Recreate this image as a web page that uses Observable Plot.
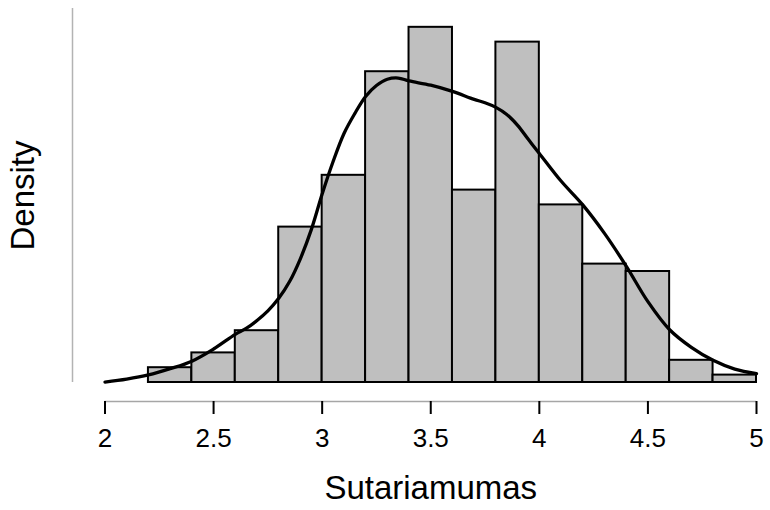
<!DOCTYPE html>
<html>
<head>
<meta charset="utf-8">
<script src="https://cdn.jsdelivr.net/npm/d3@7"></script>
<script src="https://cdn.jsdelivr.net/npm/@observablehq/plot@0.6"></script>
<style>
  html, body { margin: 0; padding: 0; background: #fff; }
  #chart { width: 770px; height: 510px; }
</style>
</head>
<body>
<div id="chart"></div>
<script>
// Histogram bins (width 0.2) and the count in each bin
const binStarts = [2.2, 2.4, 2.6, 2.8, 3.0, 3.2, 3.4, 3.6, 3.8, 4.0, 4.2, 4.4, 4.6, 4.8];
const binCounts = [2, 4, 7, 21, 28, 42, 48, 26, 46, 24, 16, 15, 3, 1];
const binWidth = 0.2;

// Kernel density estimate, sampled along x
const kdeX = [2.0, 2.1, 2.2, 2.3, 2.4, 2.5, 2.6, 2.65, 2.7, 2.75, 2.8, 2.85, 2.9, 2.95, 3.0, 3.05,
              3.1, 3.15, 3.2, 3.25, 3.3, 3.35, 3.4, 3.5, 3.6, 3.7, 3.75, 3.8, 3.85, 3.9, 3.95,
              4.0, 4.1, 4.2, 4.3, 4.4, 4.5, 4.6, 4.7, 4.8, 4.9, 5.0];
const kdeY = [0.001, 0.008, 0.018, 0.033, 0.051, 0.080, 0.115, 0.129, 0.148, 0.171, 0.201, 0.241,
              0.296, 0.365, 0.450, 0.527, 0.594, 0.642, 0.683, 0.709, 0.724, 0.727, 0.720, 0.710,
              0.695, 0.676, 0.668, 0.657, 0.640, 0.614, 0.580, 0.547, 0.481, 0.424, 0.356, 0.278,
              0.193, 0.126, 0.084, 0.053, 0.032, 0.021];

// Axis ticks and labels
const xTicks = [2, 2.5, 3, 3.5, 4, 4.5, 5];
const xLabel = "Sutariamumas";
const yLabel = "Density";

const total = d3.sum(binCounts);
const bins = binStarts.map((x0, i) => ({
  x1: x0,
  x2: x0 + binWidth,
  density: binCounts[i] / (total * binWidth)
}));
const curve = kdeX.map((x, i) => ({x, y: kdeY[i]}));
const yTop = d3.max(bins, d => d.density) * 1.053;

const font = "'Liberation Sans', Arial, Helvetica, sans-serif";

const chart = Plot.plot({
  width: 770,
  height: 510,
  marginLeft: 104.5,
  marginRight: 14,
  marginTop: 8,
  marginBottom: 128,
  style: {fontFamily: font, background: "#fff", overflow: "visible"},
  x: {domain: [2, 5]},
  y: {domain: [0, yTop], axis: null},
  marks: [
    // left axis: plain grey line, no ticks
    Plot.ruleX([2], {y1: 0, y2: yTop, dx: -32.5, stroke: "#b3b3b3", strokeWidth: 1.5}),
    Plot.rectY(bins, {
      x1: "x1", x2: "x2", y: "density",
      fill: "#bfbfbf", stroke: "#000", strokeWidth: 2
    }),
    Plot.line(curve, {x: "x", y: "y", stroke: "#000", strokeWidth: 3.3, curve: "catmull-rom"}),
    // bottom axis, offset below the bars
    Plot.ruleY([0], {x1: 2, x2: 5, dy: 19, stroke: "#a6a6a6", strokeWidth: 1.3}),
    Plot.axisX({
      ticks: xTicks,
      tickFormat: d => String(d),
      tickSize: 13,
      tickPadding: 14,
      strokeWidth: 2,
      stroke: "#000",
      dy: 19,
      fontSize: 26,
      fill: "#000",
      label: null
    }),
    Plot.text([xLabel], {
      frameAnchor: "bottom",
      lineAnchor: "middle",
      dy: 106,
      fontSize: 33,
      fill: "#000"
    }),
    Plot.text([yLabel], {
      frameAnchor: "left",
      textAnchor: "middle",
      lineAnchor: "middle",
      dx: -82,
      rotate: -90,
      fontSize: 33,
      fill: "#000"
    })
  ]
});

document.getElementById("chart").appendChild(chart);
</script>
</body>
</html>
